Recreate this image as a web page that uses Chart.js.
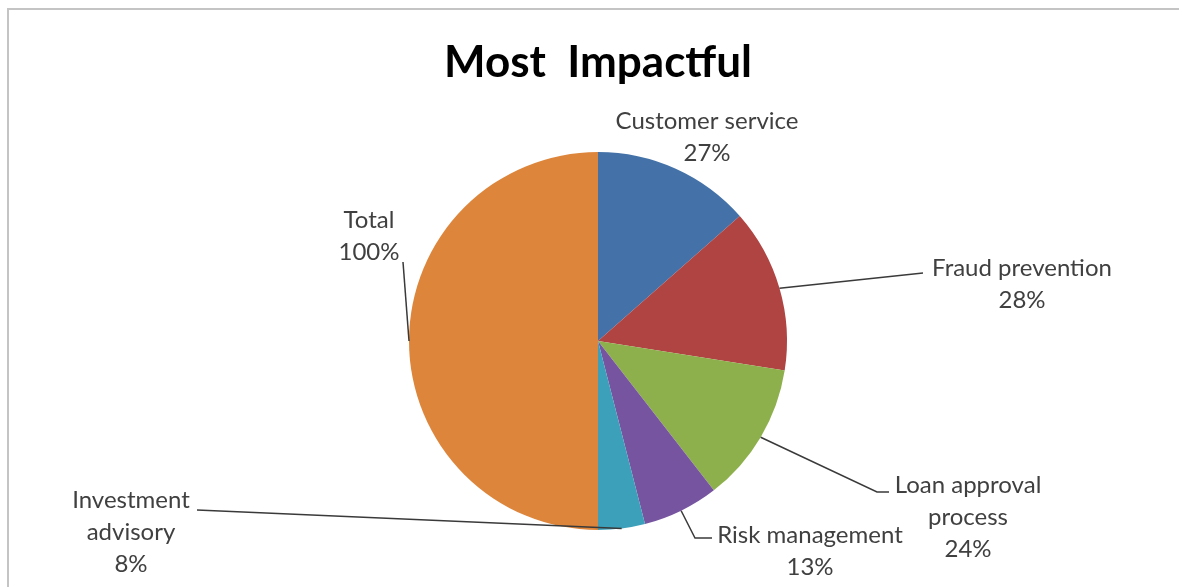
<!DOCTYPE html>
<html>
<head>
<meta charset="utf-8">
<script src="https://cdn.jsdelivr.net/npm/chart.js@4/dist/chart.umd.min.js"></script>
<style>
  html, body { margin: 0; padding: 0; background: #ffffff; }
  #wrap { position: relative; width: 1179px; height: 587px; }
</style>
</head>
<body>
<div id="wrap"><canvas id="c" width="1179" height="587"></canvas></div>
<script>
// ---- data ----
const chartTitle = 'Most  Impactful';
const categories = ['Customer service', 'Fraud prevention', 'Loan approval process', 'Risk management', 'Investment advisory', 'Total'];
const values = [27, 28, 24, 13, 8, 100];
const percentLabels = ['27%', '28%', '24%', '13%', '8%', '100%'];
const labelLines = [['Customer service'], ['Fraud prevention'], ['Loan approval', 'process'], ['Risk management'], ['Investment', 'advisory'], ['Total']];

// ---- styles ----
const sliceColors = ['#4472A8', '#B04442', '#8DB04C', '#7654A0', '#3CA0BA', '#DD853B'];
const FONT = 'Lato, "Open Sans", "DejaVu Sans", sans-serif';

// label layout relative to pie centre (px): text centre of first line, leader elbow points
const labelLayout = [
  { tx: 109, ty: -220, path: null },
  { tx: 424, ty: -73, path: [[325, -68]] },
  { tx: 370, ty: 144, path: [[279, 151], [291, 151]] },
  { tx: 212, ty: 194, path: [[97, 197], [114, 197]] },
  { tx: -467, ty: 159, path: [[-401, 169]] },
  { tx: -229, ty: -121, path: [[-195, -79]] }
];

const framePlugin = {
  id: 'frame',
  beforeDraw(chart) {
    const ctx = chart.ctx;
    ctx.save();
    ctx.strokeStyle = '#c4c4c4';
    ctx.lineWidth = 2;
    ctx.beginPath();
    ctx.moveTo(8, chart.height);
    ctx.lineTo(8, 9);
    ctx.lineTo(chart.width, 9);
    ctx.stroke();
    ctx.restore();
  }
};

const labelPlugin = {
  id: 'sliceLabels',
  afterDatasetsDraw(chart) {
    const ctx = chart.ctx;
    const meta = chart.getDatasetMeta(0);
    ctx.save();
    meta.data.forEach((arc, i) => {
      const p = arc.getProps(['x', 'y', 'startAngle', 'endAngle', 'outerRadius'], true);
      const lay = labelLayout[i];
      const mid = (p.startAngle + p.endAngle) / 2;
      const sx = p.x + Math.cos(mid) * p.outerRadius;
      const sy = p.y + Math.sin(mid) * p.outerRadius;
      if (lay.path) {
        ctx.strokeStyle = '#3a3a3a';
        ctx.lineWidth = 1.5;
        ctx.beginPath();
        ctx.moveTo(sx, sy);
        lay.path.forEach(pt => ctx.lineTo(p.x + pt[0], p.y + pt[1]));
        ctx.stroke();
      }
      const lines = labelLines[i].concat([percentLabels[i]]);
      ctx.fillStyle = '#404040';
      ctx.font = '24px ' + FONT;
      ctx.textAlign = 'center';
      ctx.textBaseline = 'middle';
      lines.forEach((t, k) => {
        ctx.fillText(t, p.x + lay.tx, p.y + lay.ty + k * 32);
      });
    });
    ctx.restore();
  }
};

new Chart(document.getElementById('c'), {
  type: 'pie',
  data: {
    labels: categories,
    datasets: [{
      data: values,
      backgroundColor: sliceColors,
      borderWidth: 0
    }]
  },
  options: {
    responsive: false,
    animation: false,
    layout: { padding: { left: 409, right: 392, top: 36, bottom: 57 } },
    plugins: {
      legend: { display: false },
      tooltip: { enabled: false },
      title: {
        display: true,
        text: chartTitle,
        color: '#000000',
        font: { family: FONT, size: 44, weight: 'bold', lineHeight: 1.2 },
        padding: { top: 0, bottom: 63.2 }
      }
    }
  },
  plugins: [framePlugin, labelPlugin]
});
</script>
</body>
</html>
